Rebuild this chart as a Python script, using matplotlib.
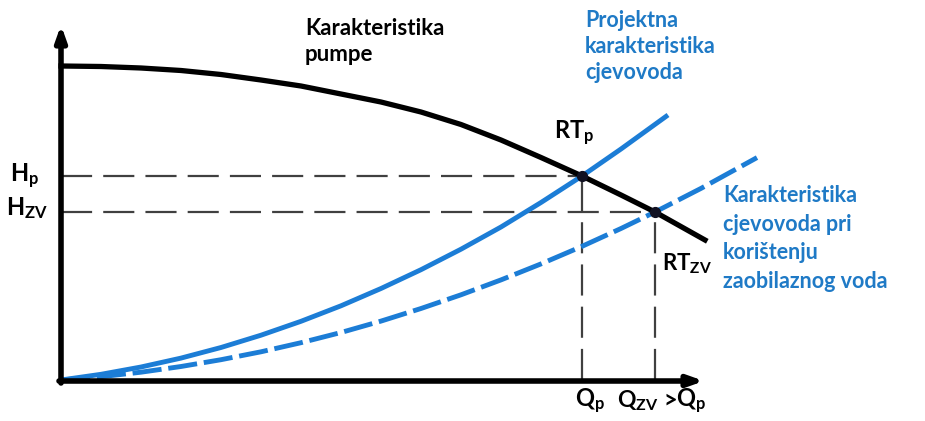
import matplotlib
matplotlib.use('Agg')
import matplotlib.pyplot as plt

plt.rcParams['font.family'] = ['Lato', 'DejaVu Sans']
plt.rcParams['mathtext.fontset'] = 'custom'
plt.rcParams['mathtext.rm'] = 'Lato:bold'
plt.rcParams['mathtext.it'] = 'Lato:bold'
plt.rcParams['mathtext.bf'] = 'Lato:bold'

# curves (Q to the right, H upward, origin at axes corner)
pump_Q = [0, 40, 80, 120, 160, 200, 240, 280, 320, 360, 400, 440, 480, 521, 560, 594, 644]
pump_H = [314, 313.5, 312, 309.5, 305.5, 300, 294, 286, 278, 268, 255.5, 240, 222.5,
          204, 185, 168, 140]

pipe_Q = [0, 40, 80, 120, 160, 200, 240, 280, 320, 360, 400, 440, 480, 521, 560, 607]
pipe_H = [0, 5.7, 13, 21.9, 32.5, 44.8, 58.7, 74.2, 91.5, 110.3, 130.8, 153, 177.5,
          204, 231, 265]

bypass_Q = [0, 40, 80, 120, 160, 200, 240, 280, 320, 360, 400, 440, 480, 520, 560,
            594, 640, 696]
bypass_H = [0, 3.3, 7.8, 13.5, 20.3, 28.2, 37.3, 47.5, 58.9, 71.5, 85.2, 100.1, 116.1,
            133.2, 151.5, 168, 191.6, 222.4]

# operating points
rt_Q = [521, 594]
rt_H = [204, 168]

blue = '#1c7dd6'
blue_txt = '#1f7ac6'
grey = '#404040'

fig = plt.figure(figsize=(9.25, 4.21), dpi=100)
ax = fig.add_axes([0, 0, 1, 1])
ax.set_xlim(-61, 864)
ax.set_ylim(-41, 380)
ax.axis('off')

# helper dashed lines to the axes
for q, h in zip(rt_Q, rt_H):
    ax.plot([0, q], [h, h], color=grey, lw=1.6, dashes=(14, 5), zorder=1)
    ax.plot([q, q], [0, h], color=grey, lw=1.6, dashes=(14, 5), zorder=1)

ax.plot(pipe_Q, pipe_H, color=blue, lw=3.5, solid_capstyle='butt', zorder=3)
ax.plot(bypass_Q, bypass_H, color=blue, lw=3.5, dashes=(6, 1.4), zorder=3)
ax.plot(pump_Q, pump_H, color='black', lw=3.8, zorder=4)
ax.scatter(rt_Q, rt_H, s=50, color='#111122', zorder=5)

# axes with arrows
arr = dict(arrowstyle='-|>,head_length=0.9,head_width=0.32', lw=4,
           color='black', shrinkA=0, shrinkB=0)
ax.annotate('', xy=(643, -1), xytext=(-2, -1), arrowprops=arr, zorder=6)
ax.annotate('', xy=(0, 355), xytext=(0, -3), arrowprops=arr, zorder=6)

# labels
ax.text(244, 362, 'Karakteristika\npumpe', fontsize=16, fontweight='bold',
        color='black', va='top', ha='left', linespacing=1.3)
ax.text(524, 370, 'Projektna\nkarakteristika\ncjevovoda', fontsize=15.5,
        fontweight='bold', color=blue_txt, va='top', ha='left', linespacing=1.3)
ax.text(662, 195, 'Karakteristika\ncjevovoda pri\nkorištenju\nzaobilaznog voda',
        fontsize=15.5, fontweight='bold', color=blue_txt, va='top', ha='left',
        linespacing=1.45)

ax.text(493, 247, r'$\mathrm{RT}_\mathrm{p}$', fontsize=17, va='center', ha='left')
ax.text(601, 116, r'$\mathrm{RT}_\mathrm{ZV}$', fontsize=16, va='center', ha='left')

ax.text(-22, 204, r'$\mathrm{H}_\mathrm{p}$', fontsize=17, va='center', ha='right')
ax.text(-13, 172, r'$\mathrm{H}_\mathrm{ZV}$', fontsize=17, va='center', ha='right')

ax.text(514, -21, r'$\mathrm{Q}_\mathrm{p}$', fontsize=17, va='center', ha='left')
ax.text(556, -21, r'$\mathrm{Q}_\mathrm{ZV}$', fontsize=16.5, va='center', ha='left')
ax.text(602, -20, '>', fontsize=17, fontweight='bold', va='center', ha='left')
ax.text(615, -21, r'$\mathrm{Q}_\mathrm{p}$', fontsize=17, va='center', ha='left')

fig.savefig('out.png', dpi=100)
